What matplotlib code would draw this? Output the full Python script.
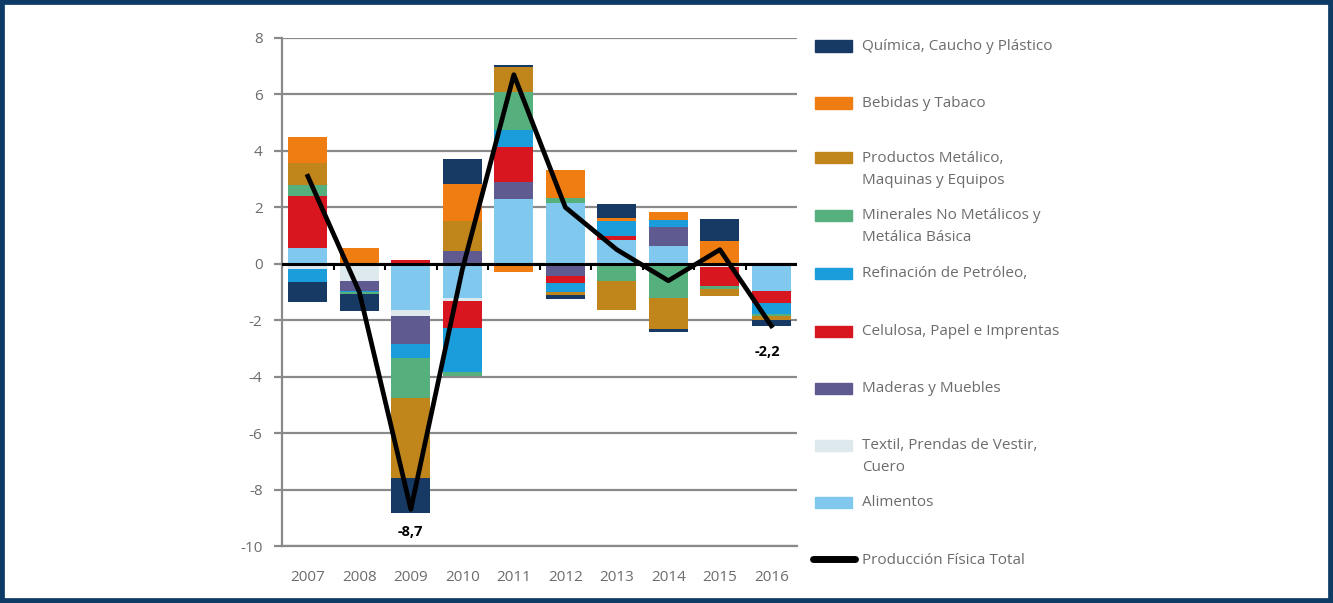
import numpy as np
import matplotlib.pyplot as plt
from matplotlib.patches import Rectangle
from matplotlib.lines import Line2D

plt.rcParams['font.family'] = ['Open Sans', 'DejaVu Sans']
plt.rcParams['axes.unicode_minus'] = False

years = ['2007', '2008', '2009', '2010', '2011', '2012', '2013', '2014', '2015', '2016']

# contribuciones por sector (puntos porcentuales), orden de apilado de abajo hacia arriba
alimentos = [0.55, 0.0, -1.65, -1.2, 2.3, 2.17, 0.86, 0.62, 0.0, -0.98]
textil = [-0.2, -0.6, -0.2, -0.12, 0.0, 0.0, 0.0, -0.08, -0.1, 0.0]
maderas = [0.0, -0.35, -0.98, 0.45, 0.6, -0.45, 0.0, 0.68, 0.0, 0.0]
celulosa = [1.85, 0.0, 0.12, -0.96, 1.25, -0.22, 0.12, 0.0, -0.7, -0.41]
refinacion = [-0.45, -0.05, -0.5, -1.54, 0.58, -0.32, 0.55, 0.25, 0.0, -0.4]
minerales = [0.4, -0.08, -1.41, -0.15, 1.34, 0.17, -0.62, -1.12, -0.1, -0.05]
productos = [0.77, 0.0, -2.86, 1.05, 0.9, -0.1, -1.0, -1.12, -0.25, -0.16]
bebidas = [0.92, 0.55, 0.0, 1.32, -0.28, 1.0, 0.08, 0.29, 0.8, 0.0]
quimica = [-0.72, -0.6, -1.22, 0.88, 0.07, -0.15, 0.5, -0.1, 0.8, -0.2]

total = [3.1, -1.0, -8.7, -0.2, 6.7, 2.0, 0.5, -0.6, 0.5, -2.2]

series = [
    ('Alimentos', alimentos, '#80c8ee'),
    ('Textil, Prendas de Vestir,\nCuero', textil, '#dde9ed'),
    ('Maderas y Muebles', maderas, '#5f5b91'),
    ('Celulosa, Papel e Imprentas', celulosa, '#d8161f'),
    ('Refinación de Petróleo,', refinacion, '#1c9ddb'),
    ('Minerales No Metálicos y\nMetálica Básica', minerales, '#55b07d'),
    ('Productos Metálico,\nMaquinas y Equipos', productos, '#c0861c'),
    ('Bebidas y Tabaco', bebidas, '#f07d12'),
    ('Química, Caucho y Plástico', quimica, '#173a64'),
]

gray = '#6c6c6c'
gridc = '#8a8a8a'
x = np.arange(len(years))

fig = plt.figure(figsize=(13.33, 6.03), dpi=100)
ax = fig.add_axes([0.2116, 0.0945, 0.3864, 0.8425])

pos_base = np.zeros(len(years))
neg_base = np.zeros(len(years))
for name, vals, col in series:
    v = np.array(vals)
    bottom = np.where(v >= 0, pos_base, neg_base)
    ax.bar(x, v, 0.76, bottom=bottom, color=col, zorder=2)
    pos_base += np.where(v >= 0, v, 0)
    neg_base += np.where(v < 0, v, 0)

ax.plot(x, total, color='black', lw=3.4, zorder=4, solid_joinstyle='round')
ax.annotate('-8,7', (2, total[2]), xytext=(0, -16), textcoords='offset points',
            ha='center', va='center', fontsize=10.5, fontweight='bold')
ax.annotate('-2,2', (9, total[9]), xytext=(-3, -19), textcoords='offset points',
            ha='center', va='center', fontsize=10.5, fontweight='bold')

ax.set_xlim(-0.5, 9.5)
ax.set_ylim(-10, 8)
ax.set_yticks(range(-10, 9, 2))
ax.yaxis.grid(True, color=gridc, lw=1.6, zorder=0)
ax.set_axisbelow(True)
ax.axhline(0, color='black', lw=2.2, zorder=3)
# marcas entre categorias sobre el eje cero
ax.vlines(np.arange(0.5, 9.5), -0.22, 0, color='black', lw=1.5, zorder=3)

for s in ['top', 'right']:
    ax.spines[s].set_visible(False)
for s in ['left', 'bottom']:
    ax.spines[s].set_color(gridc)
    ax.spines[s].set_linewidth(1.6)
ax.set_xticks(x)
ax.set_xticklabels(years)
ax.tick_params(axis='x', length=0, pad=17, labelsize=11, labelcolor=gray)
ax.tick_params(axis='y', length=6, width=1.6, color=gridc, labelsize=11,
               labelcolor=gray, pad=8)

# leyenda manual
H, W = 1333, 603
row_y = [46, 103, 158, 215, 273, 331, 388, 445, 502]
for (name, vals, col), yy in zip(series[::-1], row_y):
    fig.patches.append(Rectangle((815 / H, 1 - (yy + 5.5) / W), 37 / H, 11 / W,
                                 transform=fig.transFigure, color=col))
    fig.text(862 / H, 1 - (yy - 7) / W, name, fontsize=11, color=gray,
             va='top', ha='left', linespacing=1.65)
fig.lines.append(Line2D([813 / H, 855 / H], [1 - 559 / W, 1 - 559 / W],
                        transform=fig.transFigure, color='black', lw=5,
                        solid_capstyle='round'))
fig.text(862 / H, 1 - 561 / W, 'Producción Física Total', fontsize=11,
         color=gray, va='center', ha='left')

fig.patches.append(Rectangle((0, 0), 1, 1, transform=fig.transFigure, fill=False,
                             edgecolor='#0e3a66', lw=7))

fig.savefig('out.png', dpi=100)
